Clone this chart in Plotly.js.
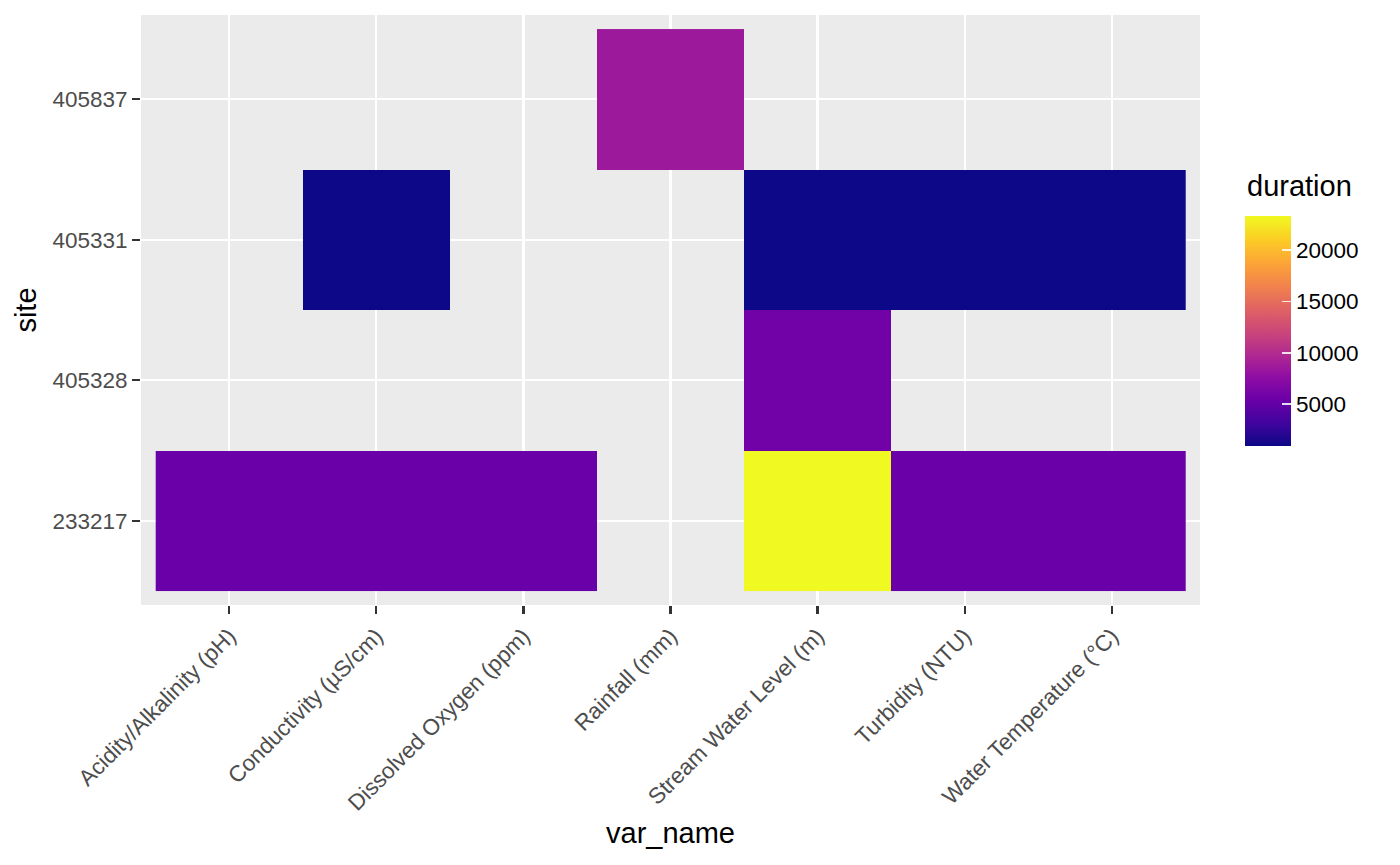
<!DOCTYPE html>
<html>
<head>
<meta charset="utf-8">
<script src="https://cdn.plot.ly/plotly-3.0.1.min.js"></script>
<style>html,body{margin:0;padding:0;background:#fff;}#chart{width:1400px;height:865px;}</style>
</head>
<body>
<div id="chart"></div>
<script>
// Categories
const varNames = ["Acidity/Alkalinity (pH)", "Conductivity (µS/cm)", "Dissolved Oxygen (ppm)", "Rainfall (mm)", "Stream Water Level (m)", "Turbidity (NTU)", "Water Temperature (°C)"];
const sites = ["233217", "405328", "405331", "405837"];

// duration values per site (rows) for each var_name (columns); null = no tile
const site233217 = [5400, 5400, 5400, null, 23314, 5400, 5400];
const site405328 = [null, null, null, null, 5750, null, null];
const site405331 = [null, 936, null, null, 936, 936, 936];
const site405837 = [null, null, null, 8550, null, null, null];

// colour bar tick labels
const cbTicks = [5000, 10000, 15000, 20000];

const zRows = [site233217, site405328, site405331, site405837];

const plasma = [
  [0.0, "#0d0887"], [0.1, "#41049d"], [0.2, "#6a00a8"], [0.3, "#8f0da4"],
  [0.4, "#b12a90"], [0.5, "#cc4778"], [0.6, "#e16462"], [0.7, "#f2844b"],
  [0.8, "#fca636"], [0.9, "#fcce25"], [1.0, "#f0f921"]
];

const fontFam = "Liberation Sans, Arial, sans-serif";
const W = 1400, H = 865;
const plotL = 141, plotR = 1200, plotT = 15, plotB = 605;
const plotH = plotB - plotT;

const trace = {
  type: "heatmap",
  x: varNames,
  y: sites,
  z: zRows,
  colorscale: plasma,
  hoverongaps: false,
  xgap: 0, ygap: 0,
  colorbar: {
    xref: "paper", x: (1245 - plotL) / (plotR - plotL), xanchor: "left",
    yref: "paper", y: (plotB - 331) / plotH, yanchor: "middle",
    lenmode: "pixels", len: 230,
    thicknessmode: "pixels", thickness: 46,
    outlinewidth: 0,
    ticks: "inside", ticklen: 9, tickcolor: "rgba(255,255,255,0.85)", tickwidth: 1.5,
    tickvals: cbTicks,
    ticktext: cbTicks.map(String),
    tickfont: {family: fontFam, size: 22.5, color: "#000"},
    ypad: 0, xpad: 0
  }
};

const layout = {
  width: W, height: H,
  margin: {l: plotL, r: W - plotR, t: plotT, b: H - plotB},
  paper_bgcolor: "#ffffff",
  plot_bgcolor: "#ebebeb",
  font: {family: fontFam},
  xaxis: {
    type: "category",
    categoryorder: "array", categoryarray: varNames,
    range: [-0.6, 6.6],
    showgrid: true, gridcolor: "#ffffff", gridwidth: 2.2,
    zeroline: false, showline: false,
    ticks: "outside", ticklen: 8, tickwidth: 2.2, tickcolor: "#333333",
    tickangle: -45,
    tickfont: {family: fontFam, size: 22.5, color: "#4d4d4d"},
    title: {text: "var_name", font: {family: fontFam, size: 29, color: "#000"}, standoff: 8},
    automargin: false
  },
  yaxis: {
    type: "category",
    categoryorder: "array", categoryarray: sites,
    range: [-0.6, 3.6],
    showgrid: true, gridcolor: "#ffffff", gridwidth: 2.2,
    zeroline: false, showline: false,
    ticks: "outside", ticklen: 8, tickwidth: 2.2, tickcolor: "#333333",
    tickfont: {family: fontFam, size: 22.5, color: "#4d4d4d"},
    title: {text: "site", font: {family: fontFam, size: 29, color: "#000"}, standoff: 7},
    automargin: false
  },
  annotations: [{
    text: "duration", xref: "paper", yref: "paper",
    x: (1245 - plotL) / (plotR - plotL), xanchor: "left",
    y: (plotB - 197) / plotH, yanchor: "bottom", yshift: -7,
    showarrow: false,
    font: {family: fontFam, size: 29, color: "#000"}
  }],
  showlegend: false
};

Plotly.newPlot("chart", [trace], layout, {displayModeBar: false, staticPlot: true});
</script>
</body>
</html>
